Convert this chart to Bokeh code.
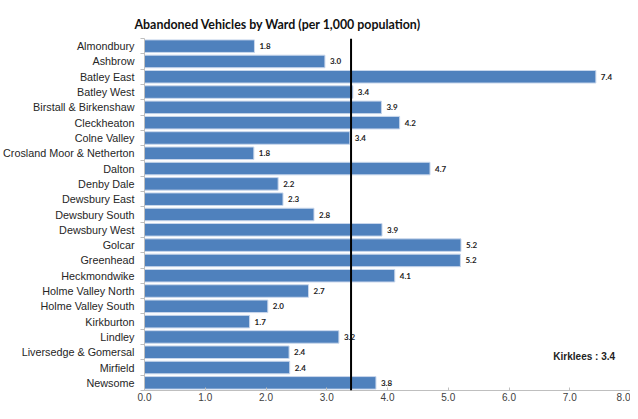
from bokeh.plotting import figure
from bokeh.models import Range1d, FixedTicker, Span, Label, ColumnDataSource
from bokeh.embed import file_html
from bokeh.resources import INLINE
from bokeh.core.properties import value

wards = ["Almondbury", "Ashbrow", "Batley East", "Batley West", "Birstall & Birkenshaw",
         "Cleckheaton", "Colne Valley", "Crosland Moor & Netherton", "Dalton", "Denby Dale",
         "Dewsbury East", "Dewsbury South", "Dewsbury West", "Golcar", "Greenhead",
         "Heckmondwike", "Holme Valley North", "Holme Valley South", "Kirkburton", "Lindley",
         "Liversedge & Gomersal", "Mirfield", "Newsome"]
rates = [1.81, 2.97, 7.43, 3.43, 3.90, 4.20, 3.38, 1.80, 4.70, 2.20, 2.28, 2.79, 3.91,
         5.21, 5.20, 4.12, 2.70, 2.03, 1.73, 3.20, 2.38, 2.39, 3.81]
kirklees = 3.4
x_ticks = [0, 1, 2, 3, 4, 5, 6, 7, 8]
title_text = "Abandoned Vehicles by Ward (per 1,000 population)"

idx = list(range(len(wards)))
src = ColumnDataSource(dict(y=idx, v=rates, lab=[f"{r:.1f}" for r in rates]))

p = figure(width=630, height=403, output_backend="svg", toolbar_location=None,
           x_range=Range1d(0, 8), y_range=Range1d(len(wards) - 0.5, -0.5),
           min_border_left=130, min_border_right=0, min_border_top=38, min_border_bottom=8)
p.outline_line_color = None
p.grid.visible = False

p.title.text = title_text
p.title.align = "left"
p.title.offset = -10
p.title.standoff = 14
p.title.text_font = "Lato"
p.title.text_font_size = "12.4px"
p.title.text_font_style = "bold"
p.title.text_color = "#111111"

p.hbar(y="y", right="v", left=0, height=0.82, source=src,
       fill_color="#4F81BD", line_color="#C9D7EC", line_width=1)
p.text(x="v", y="y", text="lab", source=src, x_offset=5,
       text_baseline="middle", text_align="left",
       text_font=value("Lato"), text_font_style="bold", text_font_size="8px",
       text_color="#222222")

p.add_layout(Span(location=kirklees, dimension="height", line_color="black", line_width=2))
p.add_layout(Label(x=6.73, y=20.25, text=f"Kirklees : {kirklees:.1f}",
                   text_baseline="middle", text_font="Liberation Sans",
                   text_font_style="bold", text_font_size="10px", text_color="#222222"))

xa = p.xaxis[0]
xa.ticker = FixedTicker(ticks=x_ticks)
xa.major_label_overrides = {t: f"{t:.1f}" for t in x_ticks}
xa.axis_line_color = "#BFBFBF"
xa.major_tick_line_color = "#BFBFBF"
xa.major_tick_in = 3
xa.major_tick_out = 0
xa.minor_tick_line_color = None
xa.major_label_standoff = 2
xa.major_label_text_font = "Liberation Sans"
xa.major_label_text_font_size = "10px"
xa.major_label_text_color = "#404040"

ya = p.yaxis[0]
ya.ticker = FixedTicker(ticks=idx, minor_ticks=[i - 0.5 for i in range(len(wards) + 1)])
ya.major_label_overrides = {i: w for i, w in enumerate(wards)}
ya.axis_line_color = "#BFBFBF"
ya.major_tick_line_color = None
ya.major_tick_out = 0
ya.major_tick_in = 0
ya.minor_tick_line_color = "#BFBFBF"
ya.minor_tick_out = 4
ya.minor_tick_in = 0
ya.major_label_standoff = 6
ya.major_label_text_font = "Liberation Sans"
ya.major_label_text_font_size = "10.8px"
ya.major_label_text_color = "#262626"

open("out.html", "w").write(file_html(p, INLINE))
